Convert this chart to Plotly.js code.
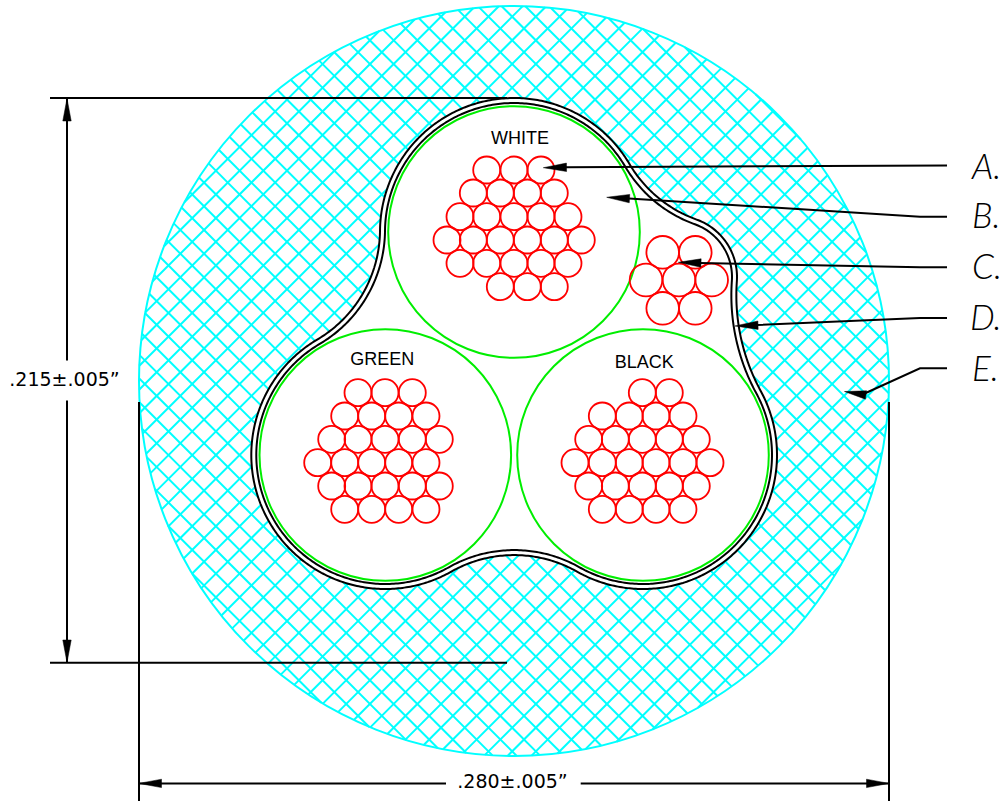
<!DOCTYPE html>
<html>
<head>
<meta charset="utf-8">
<script src="https://cdn.plot.ly/plotly-3.0.1.min.js"></script>
<style>html,body{margin:0;padding:0;background:#fff;overflow:hidden}</style>
</head>
<body>
<div id="chart" style="width:1002px;height:801px"></div>
<script>
// ---- values (pixel-scale axis units) ----
const shieldCx = [514], shieldCy = [381], shieldDiameter = 750;
const hatchOrigin = [263.3, 123.3], hatchPitch = 23.7;

const insulationX = [514, 385.3, 643], insulationY = [232, 455, 455], insulationDiameter = 251.6;

const whiteStrandX = [486.7,514,541, 473.3,500.3,527.3,554.3, 460,486.7,514,541,568,
  447,473.3,500.3,527.3,554.3,581.3, 460,486.7,514,541,568, 500.3,527.3,554.3];
const whiteStrandY = [170,170,170, 193,193,193,193, 216.7,216.7,216.7,216.7,216.7,
  240,240,240,240,240,240, 263.3,263.3,263.3,263.3,263.3, 286.7,286.7,286.7];
const greenStrandX = [358,385,412.3, 344.7,371.7,398.7,426, 331.7,358,385,412.3,439.3,
  317.7,344.7,371.7,398.7,426, 331.7,358,385,412.3,439.3, 344.7,371.7,398.7,426];
const greenStrandY = [392.7,392.7,392.7, 416,416,416,416, 439.3,439.3,439.3,439.3,439.3,
  462.7,462.7,462.7,462.7,462.7, 486,486,486,486,486, 509.3,509.3,509.3,509.3];
const blackStrandX = [642.3,669.3, 602.3,629.3,656,683, 588.7,615.3,642.3,669.3,696.3,
  575,602.3,629.3,656,683,710, 588.7,615.3,642.3,669.3,696.3, 602.3,629.3,656,683];
const blackStrandY = [392.7,392.7, 416,416,416,416, 439.3,439.3,439.3,439.3,439.3,
  462.7,462.7,462.7,462.7,462.7,462.7, 486,486,486,486,486, 509.3,509.3,509.3,509.3];
const strandDiameter = 27;
const drainStrandX = [662.7,695.3, 646,679,711.7, 662.7,695.3];
const drainStrandY = [252.3,252.3, 280,280,280, 308.3,308.3];
const drainDiameter = 32.6;

// jacket: lobes in clockwise order (white, drain, black, green) and blends between them
const lobeX = [514, 676, 643, 385.3], lobeY = [232, 277, 455, 455], lobeR = [134, 61, 134, 134];
const blendR = [128, 200, 127.7, 127.7];
const jacketWall = 5;

const wireLabels = ['WHITE','GREEN','BLACK'], wireLabelX = [520,382.3,644.3], wireLabelY = [139,360,363.5];
const calloutLabels = ['A.','B.','C.','D.','E.'], calloutX = [972,972,972,970,972], calloutY = [170,219.5,270.5,321,372];
const dimLabels = ['.215±.005”','.280±.005”'], dimLabelX = [64.5,512.5], dimLabelY = [381,783];

const leaderA = {x:[947,566], y:[165.5,167.3]};
const leaderB = {x:[947,920,629], y:[216.7,216.7,198.5]};
const leaderC = {x:[947,920,700], y:[267.3,267.3,263]};
const leaderD = {x:[947,920,757], y:[318,318,325]};
const leaderE = {x:[947,920,865.7], y:[368.3,368.3,393]};
const dimLines = [
  {x:[50,507], y:[98,98]}, {x:[50,507], y:[662.7,662.7]},
  {x:[67,67], y:[99,360.5]}, {x:[67,67], y:[400.5,662]},
  {x:[139,139], y:[402,801]}, {x:[889,889], y:[402,801]},
  {x:[139,446], y:[783.4,783.4]}, {x:[580.7,889], y:[783.4,783.4]}
];
// arrowheads: tip x, tip y, tail x, tail y
const arrowTipX =  [543.3,606.7,678.3,735,844.5, 67,67, 139,889];
const arrowTipY =  [167.7,197.3,262.3,326,391.5, 98.5,662.5, 783.4,783.4];
const arrowTailX = [566.5,629.5,701,758,866, 67,67, 161.5,866.5];
const arrowTailY = [167.3,198.6,263,325.2,395, 121,640, 783.4,783.4];

// ---- geometry helpers ----
function hatchLines(){
  const xs=[], ys=[], cx=shieldCx[0], cy=shieldCy[0], r=shieldDiameter/2;
  [1,-1].forEach(s=>{
    // lines x + s*y = c
    const c0 = hatchOrigin[0] + s*hatchOrigin[1];
    for(let k=-90;k<=90;k++){
      const c = c0 + k*hatchPitch;
      const d = (cx + s*cy - c)/Math.SQRT2;
      if(Math.abs(d)>=r) continue;
      const h = Math.sqrt(r*r-d*d);
      const fx = cx - d/Math.SQRT2, fy = cy - s*d/Math.SQRT2;
      const ux = s/Math.SQRT2, uy = -1/Math.SQRT2;
      xs.push(fx-h*ux, fx+h*ux, null);
      ys.push(fy-h*uy, fy+h*uy, null);
    }
  });
  return {x:xs,y:ys};
}
function blendCentre(i){
  const j=(i+1)%lobeX.length, R=blendR[i];
  const dx=lobeX[j]-lobeX[i], dy=lobeY[j]-lobeY[i], D=Math.hypot(dx,dy);
  const r1=lobeR[i]+R, r2=lobeR[j]+R;
  const a=(r1*r1-r2*r2+D*D)/(2*D), h=Math.sqrt(r1*r1-a*a);
  const ux=dx/D, uy=dy/D;
  return [lobeX[i]+a*ux+h*uy, lobeY[i]+a*uy-h*ux];
}
function jacket(offset){
  const n=lobeX.length, xs=[], ys=[], blends=[];
  for(let i=0;i<n;i++) blends.push(blendCentre(i));
  function arc(cx,cy,r,a0,a1,dir){
    let da=a1-a0;
    if(dir>0) while(da<0) da+=2*Math.PI;
    else while(da>0) da-=2*Math.PI;
    const m=Math.max(8,Math.ceil(Math.abs(da)*r/2));
    for(let t=0;t<=m;t++){
      const a=a0+da*t/m; xs.push(cx+r*Math.cos(a)); ys.push(cy+r*Math.sin(a));
    }
  }
  for(let i=0;i<n;i++){
    const p=blends[(i+n-1)%n], q=blends[i];
    const a0=Math.atan2(p[1]-lobeY[i],p[0]-lobeX[i]);
    const a1=Math.atan2(q[1]-lobeY[i],q[0]-lobeX[i]);
    arc(lobeX[i],lobeY[i],lobeR[i]+offset,a0,a1,1);
    const j=(i+1)%n;
    const b0=Math.atan2(lobeY[i]-q[1],lobeX[i]-q[0]);
    const b1=Math.atan2(lobeY[j]-q[1],lobeX[j]-q[0]);
    arc(q[0],q[1],blendR[i]-offset,b0,b1,-1);
  }
  xs.push(xs[0]); ys.push(ys[0]);
  return {x:xs,y:ys};
}
function arrowPaths(halfWidth){
  const xs=[], ys=[];
  arrowTipX.forEach((tx,i)=>{
    const bx=arrowTailX[i], by=arrowTailY[i], ty=arrowTipY[i];
    const L=Math.hypot(bx-tx,by-ty), nx=-(by-ty)/L, ny=(bx-tx)/L;
    xs.push(tx,bx+nx*halfWidth,bx-nx*halfWidth,tx,null);
    ys.push(ty,by+ny*halfWidth,by-ny*halfWidth,ty,null);
  });
  return {x:xs,y:ys};
}

// ---- traces ----
const CYAN='#00ffff', GREEN='#00ee00', RED='#ff0000', BLACK='#000000';
const lineTrace=(d,color,width)=>({type:'scatter',mode:'lines',x:d.x,y:d.y,hoverinfo:'skip',
  line:{color:color,width:width,shape:'linear',simplify:false},showlegend:false});
const ringTrace=(x,y,size,color,width)=>({type:'scatter',mode:'markers',x:x,y:y,hoverinfo:'skip',showlegend:false,
  marker:{symbol:'circle-open',size:size,color:color,line:{color:color,width:width}}});
const textTrace=(t,x,y,pos,font)=>({type:'scatter',mode:'text',x:x,y:y,text:t,textposition:pos,
  textfont:font,hoverinfo:'skip',showlegend:false,cliponaxis:false});

const outer=jacket(0), inner=jacket(-jacketWall), heads=arrowPaths(4.2);
const traces=[
  lineTrace(hatchLines(),CYAN,2),
  ringTrace(shieldCx,shieldCy,shieldDiameter,CYAN,2),
  {type:'scatter',mode:'none',x:outer.x,y:outer.y,fill:'toself',fillcolor:'#ffffff',hoverinfo:'skip',showlegend:false},
  lineTrace(dimLines[0],BLACK,2),
  ringTrace(insulationX,insulationY,insulationDiameter,GREEN,2),
  lineTrace(outer,BLACK,2),
  lineTrace(inner,BLACK,2),
  ringTrace(whiteStrandX,whiteStrandY,strandDiameter,RED,1.8),
  ringTrace(greenStrandX,greenStrandY,strandDiameter,RED,1.8),
  ringTrace(blackStrandX,blackStrandY,strandDiameter,RED,1.8),
  ringTrace(drainStrandX,drainStrandY,drainDiameter,RED,1.8)
];
dimLines.slice(1).forEach(d=>traces.push(lineTrace(d,BLACK,2)));
[leaderA,leaderB,leaderC,leaderD,leaderE].forEach(d=>traces.push(lineTrace(d,BLACK,2)));
traces.push({type:'scatter',mode:'lines',x:heads.x,y:heads.y,fill:'toself',fillcolor:BLACK,
  line:{color:BLACK,width:0.5},hoverinfo:'skip',showlegend:false});
traces.push(textTrace(wireLabels,wireLabelX,wireLabelY,'middle center',{family:'Liberation Sans',size:18,color:'#000'}));
traces.push(textTrace(dimLabels,dimLabelX,dimLabelY,'middle center',{family:'DejaVu Sans',size:19,color:'#000'}));
traces.push(textTrace(calloutLabels,calloutX,calloutY,'middle right',{family:'Lato',size:35,color:'#000',style:'italic',weight:300}));

const hidden=r=>({range:r,visible:false,fixedrange:true,showgrid:false,zeroline:false});
Plotly.newPlot('chart',traces,{
  width:1002,height:801,margin:{l:0,r:0,t:0,b:0,pad:0},
  paper_bgcolor:'#fff',plot_bgcolor:'#fff',showlegend:false,
  xaxis:hidden([0,1002]),yaxis:hidden([801,0])
},{displayModeBar:false,staticPlot:true});
</script>
</body>
</html>
